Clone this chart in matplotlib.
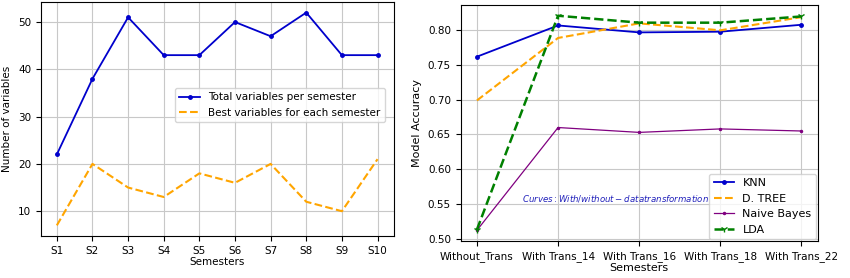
import matplotlib
matplotlib.use("Agg")
import matplotlib.pyplot as plt

semesters = ["S1", "S2", "S3", "S4", "S5", "S6", "S7", "S8", "S9", "S10"]
total_vars = [22, 38, 51, 43, 43, 50, 47, 52, 43, 43]
best_vars = [7, 20, 15, 13, 18, 16, 20, 12, 10, 21]

conditions = ["Without_Trans", "With Trans_14", "With Trans_16", "With Trans_18", "With Trans_22"]
knn = [0.762, 0.807, 0.797, 0.798, 0.808]
dtree = [0.699, 0.789, 0.810, 0.800, 0.819]
nbayes = [0.512, 0.660, 0.653, 0.658, 0.655]
lda = [0.513, 0.821, 0.811, 0.811, 0.820]

plt.rcParams['font.size'] = 7.5
fig = plt.figure(figsize=(8.5, 2.78), dpi=100)

ax1 = fig.add_axes([0.048, 0.151, 0.415, 0.842])
ax1.plot(semesters, total_vars, color='#0000cc', marker='.', markersize=5, linewidth=1.3,
         label='Total variables per semester')
ax1.plot(semesters, best_vars, color='orange', linestyle='--', linewidth=1.5,
         label='Best variables for each semester')
ax1.set_xlabel('Semesters', labelpad=1)
ax1.set_ylabel('Number of variables')
ax1.set_yticks([10, 20, 30, 40, 50])
ax1.grid(True, color='#c8c8c8')
ax1.legend(loc='center right', bbox_to_anchor=(0.99, 0.56), fontsize=7.5)

ax2 = fig.add_axes([0.542, 0.133, 0.42, 0.849])
ax2.plot(conditions, knn, color='#0000cc', marker='.', markersize=5, linewidth=1.3, label='KNN')
ax2.plot(conditions, dtree, color='orange', linestyle='--', linewidth=1.5, label='D. TREE')
ax2.plot(conditions, nbayes, color='purple', marker='.', markersize=3, linewidth=0.9, label='Naive Bayes')
ax2.plot(conditions, lda, color='green', linestyle='--', marker='1', markersize=5, linewidth=1.8, label='LDA')
ax2.set_xlabel('Semesters', labelpad=1, fontsize=8)
ax2.set_ylabel('Model Accuracy', fontsize=8)
ax2.tick_params(labelsize=7.5)
ax2.set_yticks([0.50, 0.55, 0.60, 0.65, 0.70, 0.75, 0.80])
ax2.grid(True, color='#c8c8c8')
ax2.text(0.55, 0.553, r'$Curves: With/without-datatransformation$', color='#2222bb', fontsize=6.2)
ax2.legend(loc='lower right', fontsize=8, borderaxespad=0.15, handlelength=1.8)

fig.savefig('out.png', dpi=100)
